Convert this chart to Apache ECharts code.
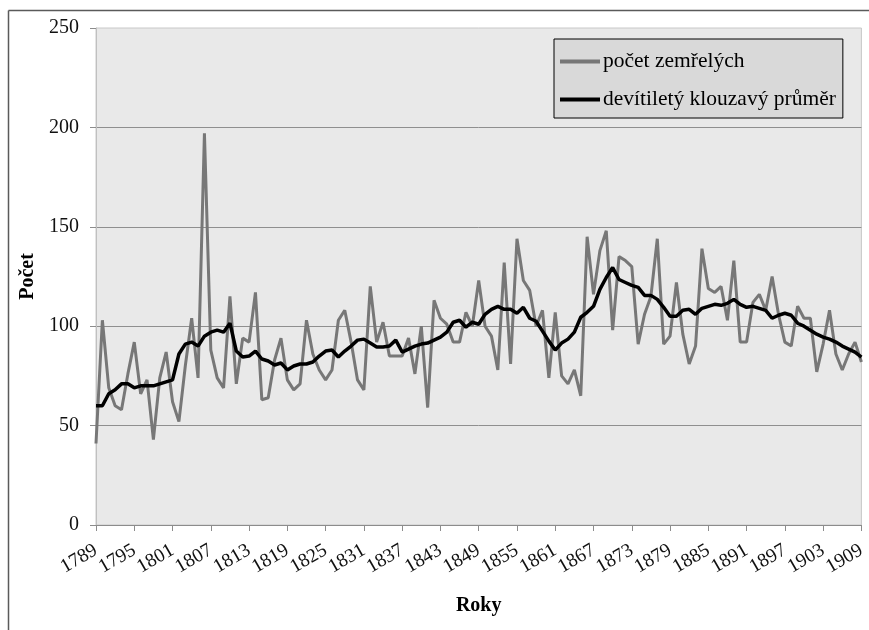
<!DOCTYPE html>
<html>
<head>
<meta charset="utf-8">
<script src="https://cdn.jsdelivr.net/npm/echarts@6/dist/echarts.min.js"></script>
<style>
html,body{margin:0;padding:0;background:#fff;}
#c{width:869px;height:630px;}
</style>
</head>
<body>
<div id="c"></div>
<script>
const years = [];
for (let y = 1789; y <= 1909; y++) years.push(String(y));

const deaths = [
  41,103,69,60,58,76,92,66,73,43,
  74,87,62,52,80,104,74,197,88,74,
  69,115,71,94,92,117,63,64,83,94,
  73,68,71,103,86,78,73,78,103,108,
  92,73,68,120,92,102,85,85,85,94,
  76,100,59,113,104,101,92,92,107,100,
  123,100,95,78,132,81,144,123,118,100,
  108,74,107,75,71,78,65,145,116,138,
  148,98,135,133,130,91,106,115,144,91,
  95,122,96,81,90,139,119,117,120,103,
  133,92,92,112,116,108,125,106,92,90,
  110,104,104,77,91,108,86,78,86,92,
  82
];

const movingAvg = [
  60,60,66,68,71,71,69,70,70,70,
  71,72,73,86,91,92,90,95,97,98,
  97,101.5,87.5,84.5,85,87.5,83.5,82.5,80.5,81.5,
  78,80,81,81,82,85,87.5,88,84.5,87.5,
  90,93,93.5,91.5,89.5,89.5,90,93,87,88.5,
  90,91,91.5,93,94.5,97,102,103,99.5,102,
  101,106,108.5,110,108.5,108.5,106.5,109.5,104,102.5,
  97.5,92.5,88,91.5,93.5,97,104.5,107,110,118.5,
  124.5,129.5,123.5,122,120.5,119.5,115.5,115.5,113.5,109.5,
  105,105,108,108.5,106,109,110,111,110.5,111.5,
  113.5,111,109.5,110,109,108,104,105.5,106.5,105.5,
  101.5,100,98,96,94.5,93.5,92,90,88.5,87,
  84.5
];

const seriesNames = ['počet zemřelých', 'devítiletý klouzavý průměr'];
const yTitle = 'Počet';
const xTitle = 'Roky';
const labelStep = 6;

const serif = '"Liberation Serif","DejaVu Serif",serif';

const chart = echarts.init(document.getElementById('c'), null, {renderer: 'canvas'});
chart.setOption({
  animation: false,
  backgroundColor: '#ffffff',
  graphic: [
    {type: 'line', shape: {x1: 8.5, y1: 10.5, x2: 869, y2: 10.5}, style: {stroke: '#5a5a5a', lineWidth: 1.5}},
    {type: 'line', shape: {x1: 8.5, y1: 10.5, x2: 8.5, y2: 630}, style: {stroke: '#5a5a5a', lineWidth: 1.5}}
  ],
  grid: {
    left: 96, right: 7, top: 28, bottom: 105,
    show: true, backgroundColor: '#e9e9e9', borderColor: '#c8c8c8', borderWidth: 1
  },
  legend: {
    orient: 'vertical',
    left: 554, top: 39,
    backgroundColor: '#d9d9d9',
    borderColor: '#000', borderWidth: 1,
    padding: [10, 7, 6, 6],
    itemGap: 13,
    itemWidth: 40, itemHeight: 4,
    icon: 'rect',
    textStyle: {fontFamily: serif, fontSize: 21.5, color: '#000', lineHeight: 25, padding: [0,0,0,-2]},
    data: seriesNames
  },
  xAxis: {
    type: 'category',
    data: years,
    boundaryGap: false,
    name: xTitle,
    nameLocation: 'middle',
    nameGap: 71,
    nameTextStyle: {fontFamily: serif, fontSize: 20, fontWeight: 'bold', color: '#000'},
    axisLine: {lineStyle: {color: '#8c8c8c', width: 1}},
    axisTick: {show: true, interval: labelStep - 1, length: 6, lineStyle: {color: '#8c8c8c'}},
    axisLabel: {interval: 0, rotate: 30, margin: 24, hideOverlap: false,
                formatter: function (v, i) { return i % labelStep === 0 ? v : ''; },
                fontFamily: serif, fontSize: 19.5, color: '#111'},
    splitLine: {show: false}
  },
  yAxis: {
    type: 'value',
    min: 0, max: 250, interval: 50,
    name: yTitle,
    nameLocation: 'middle',
    nameRotate: 90,
    nameGap: 52,
    nameTextStyle: {fontFamily: serif, fontSize: 20, fontWeight: 'bold', color: '#000'},
    axisLine: {show: true, lineStyle: {color: '#c0c0c0', width: 1}},
    axisTick: {show: true, length: 6, lineStyle: {color: '#8c8c8c'}},
    axisLabel: {margin: 17, fontFamily: serif, fontSize: 20, color: '#111'},
    splitLine: {show: true, showMaxLine: false, lineStyle: {color: '#8f8f8f', width: 1}}
  },
  series: [
    {
      name: seriesNames[0], type: 'line', data: deaths,
      showSymbol: false, symbol: 'none',
      lineStyle: {color: '#777777', width: 3},
      itemStyle: {color: '#777777'},
      z: 2
    },
    {
      name: seriesNames[1], type: 'line', data: movingAvg,
      showSymbol: false, symbol: 'none',
      lineStyle: {color: '#000000', width: 3.5},
      itemStyle: {color: '#000000'},
      z: 3
    }
  ]
});
</script>
</body>
</html>
